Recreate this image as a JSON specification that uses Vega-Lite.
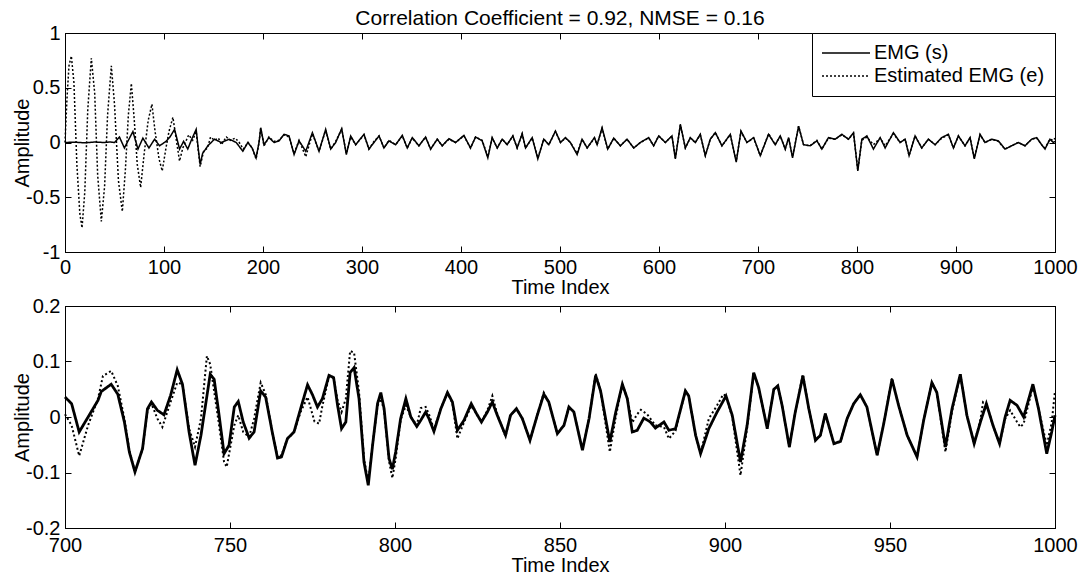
{
"$schema": "https://vega.github.io/schema/vega-lite/v6.json",
"background": "white",
"padding": {"left": 12, "top": 7, "right": 0, "bottom": 0},
"datasets": {
"top": [
{"t":0,"v":0,"k":"s"},{"t":10,"v":0.003,"k":"s"},{"t":20,"v":-0.003,"k":"s"},{"t":30,"v":0.004,"k":"s"},{"t":40,"v":0,"k":"s"},{"t":45,"v":0.005,"k":"s"},{"t":50,"v":0,"k":"s"},{"t":55,"v":0.05,"k":"s"},{"t":60,"v":-0.05,"k":"s"},{"t":64,"v":0.02,"k":"s"},{"t":68.6,"v":0.1,"k":"s"},{"t":73.7,"v":-0.06,"k":"s"},{"t":78.7,"v":0.04,"k":"s"},{"t":84.8,"v":-0.05,"k":"s"},{"t":90.5,"v":0.03,"k":"s"},{"t":95.5,"v":-0.03,"k":"s"},{"t":102,"v":0.01,"k":"s"},{"t":106,"v":0.05,"k":"s"},{"t":110.7,"v":0.12,"k":"s"},{"t":115.7,"v":-0.06,"k":"s"},{"t":119.8,"v":0.01,"k":"s"},{"t":124,"v":-0.06,"k":"s"},{"t":128,"v":0.03,"k":"s"},{"t":132.5,"v":0.12,"k":"s"},{"t":134.5,"v":-0.05,"k":"s"},{"t":136.5,"v":-0.2,"k":"s"},{"t":139,"v":-0.1,"k":"s"},{"t":144.3,"v":-0.03,"k":"s"},{"t":151,"v":0.03,"k":"s"},{"t":157.8,"v":0,"k":"s"},{"t":166,"v":0.03,"k":"s"},{"t":173,"v":0,"k":"s"},{"t":179.6,"v":-0.08,"k":"s"},{"t":184.7,"v":0,"k":"s"},{"t":189,"v":-0.05,"k":"s"},{"t":193,"v":-0.14,"k":"s"},{"t":196,"v":0,"k":"s"},{"t":197.7,"v":0.135,"k":"s"},{"t":201,"v":-0.02,"k":"s"},{"t":206,"v":0.045,"k":"s"},{"t":211.2,"v":0,"k":"s"},{"t":216.2,"v":0.015,"k":"s"},{"t":221.3,"v":0.075,"k":"s"},{"t":226.3,"v":0.06,"k":"s"},{"t":231.4,"v":-0.11,"k":"s"},{"t":236.4,"v":0.015,"k":"s"},{"t":243.2,"v":-0.08,"k":"s"},{"t":249.9,"v":0.09,"k":"s"},{"t":256.6,"v":-0.08,"k":"s"},{"t":263.3,"v":0.12,"k":"s"},{"t":268.4,"v":-0.06,"k":"s"},{"t":273.4,"v":0,"k":"s"},{"t":279.5,"v":0.126,"k":"s"},{"t":284.2,"v":-0.11,"k":"s"},{"t":288.6,"v":0.06,"k":"s"},{"t":293.6,"v":-0.02,"k":"s"},{"t":302,"v":0.075,"k":"s"},{"t":307,"v":-0.06,"k":"s"},{"t":312.1,"v":0,"k":"s"},{"t":317.2,"v":0.06,"k":"s"},{"t":322.2,"v":-0.05,"k":"s"},{"t":327.2,"v":0.015,"k":"s"},{"t":334,"v":-0.02,"k":"s"},{"t":340.7,"v":0.065,"k":"s"},{"t":345.7,"v":-0.05,"k":"s"},{"t":350.8,"v":0.045,"k":"s"},{"t":357.5,"v":-0.03,"k":"s"},{"t":364.2,"v":0.05,"k":"s"},{"t":369.3,"v":-0.06,"k":"s"},{"t":376,"v":0.03,"k":"s"},{"t":381,"v":-0.03,"k":"s"},{"t":387.8,"v":0.035,"k":"s"},{"t":394.5,"v":0,"k":"s"},{"t":402.9,"v":0.065,"k":"s"},{"t":409.6,"v":-0.05,"k":"s"},{"t":414.7,"v":0.05,"k":"s"},{"t":421.4,"v":0.015,"k":"s"},{"t":427.1,"v":-0.14,"k":"s"},{"t":431.5,"v":0.045,"k":"s"},{"t":436.6,"v":-0.05,"k":"s"},{"t":441.6,"v":0.03,"k":"s"},{"t":446.6,"v":-0.02,"k":"s"},{"t":452.4,"v":0.06,"k":"s"},{"t":456.7,"v":-0.05,"k":"s"},{"t":461.8,"v":0.08,"k":"s"},{"t":465.2,"v":-0.05,"k":"s"},{"t":471.9,"v":0.045,"k":"s"},{"t":477.6,"v":-0.15,"k":"s"},{"t":483.6,"v":0.03,"k":"s"},{"t":488.7,"v":-0.02,"k":"s"},{"t":495.4,"v":0.105,"k":"s"},{"t":500.5,"v":0,"k":"s"},{"t":505.5,"v":0.045,"k":"s"},{"t":510.5,"v":0,"k":"s"},{"t":517.3,"v":-0.11,"k":"s"},{"t":522.3,"v":0.03,"k":"s"},{"t":527.4,"v":-0.05,"k":"s"},{"t":534.8,"v":0.045,"k":"s"},{"t":537.5,"v":-0.02,"k":"s"},{"t":542.5,"v":0.135,"k":"s"},{"t":548.2,"v":-0.06,"k":"s"},{"t":554.3,"v":0.04,"k":"s"},{"t":561,"v":-0.03,"k":"s"},{"t":567.7,"v":0.03,"k":"s"},{"t":574.5,"v":-0.05,"k":"s"},{"t":581.2,"v":0,"k":"s"},{"t":589.6,"v":0.045,"k":"s"},{"t":594.6,"v":-0.03,"k":"s"},{"t":599.7,"v":0.06,"k":"s"},{"t":606.4,"v":0,"k":"s"},{"t":613.1,"v":0.06,"k":"s"},{"t":616.5,"v":-0.15,"k":"s"},{"t":621.6,"v":0.165,"k":"s"},{"t":626.6,"v":-0.05,"k":"s"},{"t":631.6,"v":0.045,"k":"s"},{"t":636.7,"v":0,"k":"s"},{"t":641.7,"v":0.075,"k":"s"},{"t":646.8,"v":-0.12,"k":"s"},{"t":651.8,"v":0.03,"k":"s"},{"t":656.9,"v":0.09,"k":"s"},{"t":663.6,"v":-0.03,"k":"s"},{"t":672,"v":0.075,"k":"s"},{"t":678,"v":-0.18,"k":"s"},{"t":682.8,"v":0.105,"k":"s"},{"t":688.8,"v":0,"k":"s"},{"t":695.6,"v":0.045,"k":"s"},{"t":702.3,"v":-0.12,"k":"s"},{"t":710.7,"v":0.075,"k":"s"},{"t":717.4,"v":-0.02,"k":"s"},{"t":722.5,"v":0.06,"k":"s"},{"t":727.5,"v":-0.06,"k":"s"},{"t":730.9,"v":0.045,"k":"s"},{"t":734.9,"v":-0.14,"k":"s"},{"t":741,"v":0.15,"k":"s"},{"t":746,"v":-0.02,"k":"s"},{"t":752.7,"v":-0.03,"k":"s"},{"t":759.5,"v":0.015,"k":"s"},{"t":764.5,"v":-0.06,"k":"s"},{"t":771.2,"v":0.045,"k":"s"},{"t":778,"v":0.03,"k":"s"},{"t":784.7,"v":0.075,"k":"s"},{"t":791.4,"v":0.03,"k":"s"},{"t":796.5,"v":0.09,"k":"s"},{"t":800.8,"v":-0.26,"k":"s"},{"t":804.9,"v":0.03,"k":"s"},{"t":810,"v":0.06,"k":"s"},{"t":816.6,"v":-0.06,"k":"s"},{"t":823.4,"v":0.045,"k":"s"},{"t":828.4,"v":-0.05,"k":"s"},{"t":836.8,"v":0.09,"k":"s"},{"t":843.5,"v":0,"k":"s"},{"t":848.6,"v":0.03,"k":"s"},{"t":852.6,"v":-0.12,"k":"s"},{"t":858.7,"v":0.06,"k":"s"},{"t":865.4,"v":-0.05,"k":"s"},{"t":872.1,"v":0.03,"k":"s"},{"t":878.9,"v":-0.02,"k":"s"},{"t":885.6,"v":0.045,"k":"s"},{"t":892.3,"v":0.075,"k":"s"},{"t":897.4,"v":-0.05,"k":"s"},{"t":902.4,"v":0.06,"k":"s"},{"t":909.1,"v":-0.03,"k":"s"},{"t":914.2,"v":0.045,"k":"s"},{"t":918.5,"v":-0.15,"k":"s"},{"t":924.3,"v":0.075,"k":"s"},{"t":929.3,"v":0,"k":"s"},{"t":936,"v":0.03,"k":"s"},{"t":942.8,"v":0.015,"k":"s"},{"t":949.5,"v":-0.06,"k":"s"},{"t":956.2,"v":-0.03,"k":"s"},{"t":962.9,"v":0,"k":"s"},{"t":969.7,"v":-0.03,"k":"s"},{"t":976.4,"v":0.03,"k":"s"},{"t":981.5,"v":0.045,"k":"s"},{"t":986.5,"v":-0.02,"k":"s"},{"t":989.9,"v":-0.06,"k":"s"},{"t":994.9,"v":0.03,"k":"s"},{"t":998.3,"v":0,"k":"s"},{"t":1000,"v":0.01,"k":"s"},
{"t":0,"v":0,"k":"e"},{"t":2,"v":0.4,"k":"e"},{"t":4,"v":0.7,"k":"e"},{"t":6.4,"v":0.79,"k":"e"},{"t":9,"v":0.55,"k":"e"},{"t":12,"v":-0.2,"k":"e"},{"t":15,"v":-0.65,"k":"e"},{"t":17.2,"v":-0.78,"k":"e"},{"t":20,"v":-0.45,"k":"e"},{"t":23,"v":0.3,"k":"e"},{"t":26.6,"v":0.77,"k":"e"},{"t":30,"v":0.45,"k":"e"},{"t":33,"v":-0.3,"k":"e"},{"t":36.7,"v":-0.72,"k":"e"},{"t":40,"v":-0.4,"k":"e"},{"t":43,"v":0.25,"k":"e"},{"t":46.8,"v":0.7,"k":"e"},{"t":50,"v":0.35,"k":"e"},{"t":54,"v":-0.35,"k":"e"},{"t":57.9,"v":-0.63,"k":"e"},{"t":61,"v":-0.25,"k":"e"},{"t":64,"v":0.25,"k":"e"},{"t":67,"v":0.54,"k":"e"},{"t":70,"v":0.2,"k":"e"},{"t":73,"v":-0.2,"k":"e"},{"t":76.4,"v":-0.41,"k":"e"},{"t":80,"v":-0.1,"k":"e"},{"t":84,"v":0.2,"k":"e"},{"t":87.8,"v":0.35,"k":"e"},{"t":91,"v":0.1,"k":"e"},{"t":95,"v":-0.15,"k":"e"},{"t":98.2,"v":-0.26,"k":"e"},{"t":102,"v":-0.05,"k":"e"},{"t":105,"v":0.1,"k":"e"},{"t":109,"v":0.23,"k":"e"},{"t":112,"v":0.05,"k":"e"},{"t":115.7,"v":-0.17,"k":"e"},{"t":119,"v":-0.05,"k":"e"},{"t":125,"v":0.07,"k":"e"},{"t":129,"v":0.02,"k":"e"},{"t":132.5,"v":0.1,"k":"e"},{"t":136.5,"v":-0.22,"k":"e"},{"t":140,"v":-0.08,"k":"e"},{"t":144,"v":-0.05,"k":"e"},{"t":147,"v":0.05,"k":"e"},{"t":151,"v":0.02,"k":"e"},{"t":155,"v":0.04,"k":"e"},{"t":158,"v":-0.02,"k":"e"},{"t":163,"v":0.05,"k":"e"},{"t":167,"v":0.02,"k":"e"},{"t":172,"v":0.04,"k":"e"},{"t":176,"v":0,"k":"e"},{"t":180,"v":-0.06,"k":"e"},{"t":185,"v":0,"k":"e"},{"t":189,"v":-0.05,"k":"e"},{"t":193,"v":-0.15,"k":"e"},{"t":196,"v":0,"k":"e"},{"t":197.7,"v":0.13,"k":"e"},{"t":201,"v":-0.03,"k":"e"},{"t":206,"v":0.05,"k":"e"},{"t":211.2,"v":0.01,"k":"e"},{"t":216.2,"v":0.02,"k":"e"},{"t":221.3,"v":0.07,"k":"e"},{"t":226.3,"v":0.05,"k":"e"},{"t":231.4,"v":-0.1,"k":"e"},{"t":236.4,"v":0.02,"k":"e"},{"t":243.2,"v":-0.13,"k":"e"},{"t":249.9,"v":0.08,"k":"e"},{"t":256.6,"v":-0.08,"k":"e"},{"t":263.3,"v":0.11,"k":"e"},{"t":268.4,"v":-0.06,"k":"e"},{"t":273.4,"v":0.01,"k":"e"},{"t":279.5,"v":0.12,"k":"e"},{"t":284.2,"v":-0.1,"k":"e"},{"t":288.6,"v":0.05,"k":"e"},{"t":293.6,"v":-0.02,"k":"e"},{"t":302,"v":0.07,"k":"e"},{"t":307,"v":-0.06,"k":"e"},{"t":312.1,"v":0.01,"k":"e"},{"t":317.2,"v":0.06,"k":"e"},{"t":322.2,"v":-0.05,"k":"e"},{"t":327.2,"v":0.02,"k":"e"},{"t":334,"v":-0.02,"k":"e"},{"t":340.7,"v":0.06,"k":"e"},{"t":345.7,"v":-0.05,"k":"e"},{"t":350.8,"v":0.04,"k":"e"},{"t":357.5,"v":-0.03,"k":"e"},{"t":364.2,"v":0.05,"k":"e"},{"t":369.3,"v":-0.06,"k":"e"},{"t":376,"v":0.03,"k":"e"},{"t":381,"v":-0.03,"k":"e"},{"t":387.8,"v":0.03,"k":"e"},{"t":394.5,"v":0,"k":"e"},{"t":402.9,"v":0.06,"k":"e"},{"t":409.6,"v":-0.05,"k":"e"},{"t":414.7,"v":0.05,"k":"e"},{"t":421.4,"v":0.02,"k":"e"},{"t":427.1,"v":-0.13,"k":"e"},{"t":431.5,"v":0.04,"k":"e"},{"t":436.6,"v":-0.05,"k":"e"},{"t":441.6,"v":0.03,"k":"e"},{"t":446.6,"v":-0.02,"k":"e"},{"t":452.4,"v":0.06,"k":"e"},{"t":456.7,"v":-0.05,"k":"e"},{"t":461.8,"v":0.08,"k":"e"},{"t":465.2,"v":-0.05,"k":"e"},{"t":471.9,"v":0.04,"k":"e"},{"t":477.6,"v":-0.14,"k":"e"},{"t":483.6,"v":0.03,"k":"e"},{"t":488.7,"v":-0.02,"k":"e"},{"t":495.4,"v":0.1,"k":"e"},{"t":500.5,"v":0,"k":"e"},{"t":505.5,"v":0.04,"k":"e"},{"t":510.5,"v":0,"k":"e"},{"t":517.3,"v":-0.1,"k":"e"},{"t":522.3,"v":0.03,"k":"e"},{"t":527.4,"v":-0.05,"k":"e"},{"t":534.8,"v":0.04,"k":"e"},{"t":537.5,"v":-0.02,"k":"e"},{"t":542.5,"v":0.13,"k":"e"},{"t":548.2,"v":-0.06,"k":"e"},{"t":554.3,"v":0.04,"k":"e"},{"t":561,"v":-0.03,"k":"e"},{"t":567.7,"v":0.03,"k":"e"},{"t":574.5,"v":-0.05,"k":"e"},{"t":581.2,"v":0,"k":"e"},{"t":589.6,"v":0.04,"k":"e"},{"t":594.6,"v":-0.03,"k":"e"},{"t":599.7,"v":0.06,"k":"e"},{"t":606.4,"v":0,"k":"e"},{"t":613.1,"v":0.06,"k":"e"},{"t":616.5,"v":-0.14,"k":"e"},{"t":621.6,"v":0.16,"k":"e"},{"t":626.6,"v":-0.05,"k":"e"},{"t":631.6,"v":0.04,"k":"e"},{"t":636.7,"v":0,"k":"e"},{"t":641.7,"v":0.07,"k":"e"},{"t":646.8,"v":-0.12,"k":"e"},{"t":651.8,"v":0.03,"k":"e"},{"t":656.9,"v":0.09,"k":"e"},{"t":663.6,"v":-0.03,"k":"e"},{"t":672,"v":0.07,"k":"e"},{"t":678,"v":-0.17,"k":"e"},{"t":682.8,"v":0.1,"k":"e"},{"t":688.8,"v":0,"k":"e"},{"t":695.6,"v":0.04,"k":"e"},{"t":702.3,"v":-0.12,"k":"e"},{"t":710.7,"v":0.08,"k":"e"},{"t":717.4,"v":-0.02,"k":"e"},{"t":722.5,"v":0.06,"k":"e"},{"t":727.5,"v":-0.06,"k":"e"},{"t":730.9,"v":0.04,"k":"e"},{"t":734.9,"v":-0.13,"k":"e"},{"t":741,"v":0.15,"k":"e"},{"t":746,"v":-0.02,"k":"e"},{"t":752.7,"v":-0.03,"k":"e"},{"t":759.5,"v":0.02,"k":"e"},{"t":764.5,"v":-0.06,"k":"e"},{"t":771.2,"v":0.04,"k":"e"},{"t":778,"v":0.03,"k":"e"},{"t":784.7,"v":0.07,"k":"e"},{"t":791.4,"v":0.03,"k":"e"},{"t":796.5,"v":0.08,"k":"e"},{"t":800.8,"v":-0.25,"k":"e"},{"t":804.9,"v":0.02,"k":"e"},{"t":810,"v":0.05,"k":"e"},{"t":816.6,"v":-0.02,"k":"e"},{"t":823.4,"v":0.04,"k":"e"},{"t":828.4,"v":-0.03,"k":"e"},{"t":836.8,"v":0.08,"k":"e"},{"t":843.5,"v":0,"k":"e"},{"t":848.6,"v":0.03,"k":"e"},{"t":852.6,"v":-0.12,"k":"e"},{"t":858.7,"v":0.06,"k":"e"},{"t":865.4,"v":-0.05,"k":"e"},{"t":872.1,"v":0.03,"k":"e"},{"t":878.9,"v":-0.02,"k":"e"},{"t":885.6,"v":0.04,"k":"e"},{"t":892.3,"v":0.07,"k":"e"},{"t":897.4,"v":-0.05,"k":"e"},{"t":902.4,"v":0.06,"k":"e"},{"t":909.1,"v":-0.03,"k":"e"},{"t":914.2,"v":0.04,"k":"e"},{"t":918.5,"v":-0.14,"k":"e"},{"t":924.3,"v":0.07,"k":"e"},{"t":929.3,"v":0,"k":"e"},{"t":936,"v":0.03,"k":"e"},{"t":942.8,"v":0.01,"k":"e"},{"t":949.5,"v":-0.06,"k":"e"},{"t":956.2,"v":-0.03,"k":"e"},{"t":962.9,"v":0,"k":"e"},{"t":969.7,"v":-0.03,"k":"e"},{"t":976.4,"v":0.03,"k":"e"},{"t":981.5,"v":0.04,"k":"e"},{"t":986.5,"v":-0.02,"k":"e"},{"t":989.9,"v":-0.05,"k":"e"},{"t":994.9,"v":0.03,"k":"e"},{"t":998.3,"v":0.02,"k":"e"},{"t":1000,"v":0.04,"k":"e"}
],
"bottom": [
{"t":700,"v":0.036,"k":"s"},{"t":702,"v":0.024,"k":"s"},{"t":704.3,"v":-0.027,"k":"s"},{"t":707,"v":0,"k":"s"},{"t":710,"v":0.03,"k":"s"},{"t":711,"v":0.046,"k":"s"},{"t":714,"v":0.059,"k":"s"},{"t":716,"v":0.041,"k":"s"},{"t":718,"v":-0.009,"k":"s"},{"t":719.5,"v":-0.063,"k":"s"},{"t":721.2,"v":-0.099,"k":"s"},{"t":723.5,"v":-0.057,"k":"s"},{"t":725,"v":0.015,"k":"s"},{"t":726.2,"v":0.027,"k":"s"},{"t":728,"v":0.012,"k":"s"},{"t":730,"v":0.004,"k":"s"},{"t":732,"v":0.039,"k":"s"},{"t":734,"v":0.085,"k":"s"},{"t":735.6,"v":0.059,"k":"s"},{"t":737.6,"v":-0.027,"k":"s"},{"t":739.4,"v":-0.087,"k":"s"},{"t":741.2,"v":-0.033,"k":"s"},{"t":744,"v":0.077,"k":"s"},{"t":745.2,"v":0.068,"k":"s"},{"t":746.7,"v":0.003,"k":"s"},{"t":748.2,"v":-0.066,"k":"s"},{"t":749.7,"v":-0.051,"k":"s"},{"t":751.3,"v":0.018,"k":"s"},{"t":752.5,"v":0.028,"k":"s"},{"t":754,"v":-0.009,"k":"s"},{"t":755.8,"v":-0.038,"k":"s"},{"t":757.3,"v":-0.027,"k":"s"},{"t":759.3,"v":0.047,"k":"s"},{"t":760.8,"v":0.036,"k":"s"},{"t":762.8,"v":-0.027,"k":"s"},{"t":764.4,"v":-0.074,"k":"s"},{"t":765.6,"v":-0.072,"k":"s"},{"t":767.4,"v":-0.039,"k":"s"},{"t":769.4,"v":-0.027,"k":"s"},{"t":771.4,"v":0.015,"k":"s"},{"t":773.5,"v":0.058,"k":"s"},{"t":775,"v":0.04,"k":"s"},{"t":776.5,"v":0.018,"k":"s"},{"t":778,"v":0.033,"k":"s"},{"t":780,"v":0.075,"k":"s"},{"t":781.4,"v":0.071,"k":"s"},{"t":782.6,"v":0.021,"k":"s"},{"t":783.8,"v":-0.021,"k":"s"},{"t":785.1,"v":-0.009,"k":"s"},{"t":786.4,"v":0.08,"k":"s"},{"t":787.6,"v":0.089,"k":"s"},{"t":789.1,"v":0.033,"k":"s"},{"t":790.6,"v":-0.081,"k":"s"},{"t":791.9,"v":-0.123,"k":"s"},{"t":793.2,"v":-0.051,"k":"s"},{"t":794.7,"v":0.024,"k":"s"},{"t":795.7,"v":0.044,"k":"s"},{"t":796.7,"v":0.015,"k":"s"},{"t":798.2,"v":-0.075,"k":"s"},{"t":799.2,"v":-0.094,"k":"s"},{"t":800.2,"v":-0.063,"k":"s"},{"t":801.7,"v":-0.003,"k":"s"},{"t":803.3,"v":0.033,"k":"s"},{"t":804.8,"v":0,"k":"s"},{"t":806.6,"v":-0.017,"k":"s"},{"t":807.8,"v":-0.006,"k":"s"},{"t":809.3,"v":0.009,"k":"s"},{"t":810.3,"v":-0.003,"k":"s"},{"t":811.8,"v":-0.026,"k":"s"},{"t":813.9,"v":0.015,"k":"s"},{"t":815.9,"v":0.044,"k":"s"},{"t":817.4,"v":0.027,"k":"s"},{"t":818.9,"v":-0.024,"k":"s"},{"t":820.9,"v":-0.006,"k":"s"},{"t":823.1,"v":0.024,"k":"s"},{"t":824.7,"v":0.006,"k":"s"},{"t":826.2,"v":-0.009,"k":"s"},{"t":828,"v":0.009,"k":"s"},{"t":829.5,"v":0.027,"k":"s"},{"t":831,"v":0.003,"k":"s"},{"t":833.5,"v":-0.033,"k":"s"},{"t":835,"v":0.003,"k":"s"},{"t":836.8,"v":0.015,"k":"s"},{"t":838.6,"v":-0.003,"k":"s"},{"t":840.9,"v":-0.042,"k":"s"},{"t":843.1,"v":0.003,"k":"s"},{"t":845.1,"v":0.041,"k":"s"},{"t":846.6,"v":0.027,"k":"s"},{"t":849.2,"v":-0.03,"k":"s"},{"t":851.2,"v":-0.015,"k":"s"},{"t":852.7,"v":0.018,"k":"s"},{"t":854.2,"v":0.009,"k":"s"},{"t":856.8,"v":-0.06,"k":"s"},{"t":858.8,"v":-0.003,"k":"s"},{"t":860.8,"v":0.075,"k":"s"},{"t":862.3,"v":0.047,"k":"s"},{"t":865.1,"v":-0.045,"k":"s"},{"t":866.9,"v":0.009,"k":"s"},{"t":868.9,"v":0.059,"k":"s"},{"t":870.4,"v":0.033,"k":"s"},{"t":871.9,"v":-0.027,"k":"s"},{"t":873.4,"v":-0.024,"k":"s"},{"t":875.4,"v":-0.002,"k":"s"},{"t":877.4,"v":-0.009,"k":"s"},{"t":878.9,"v":-0.02,"k":"s"},{"t":881.5,"v":-0.009,"k":"s"},{"t":883,"v":-0.024,"k":"s"},{"t":885,"v":-0.021,"k":"s"},{"t":888,"v":0.047,"k":"s"},{"t":889,"v":0.038,"k":"s"},{"t":891.1,"v":-0.033,"k":"s"},{"t":892.6,"v":-0.066,"k":"s"},{"t":895.1,"v":-0.021,"k":"s"},{"t":897.6,"v":0.009,"k":"s"},{"t":900.3,"v":0.038,"k":"s"},{"t":902.2,"v":0.003,"k":"s"},{"t":904.7,"v":-0.081,"k":"s"},{"t":906.7,"v":-0.015,"k":"s"},{"t":908.7,"v":0.08,"k":"s"},{"t":910.2,"v":0.053,"k":"s"},{"t":912.8,"v":-0.021,"k":"s"},{"t":914.8,"v":0.05,"k":"s"},{"t":916,"v":0.056,"k":"s"},{"t":917.3,"v":0.021,"k":"s"},{"t":919.5,"v":-0.054,"k":"s"},{"t":921.3,"v":0.009,"k":"s"},{"t":923.6,"v":0.074,"k":"s"},{"t":925.4,"v":0.015,"k":"s"},{"t":927.4,"v":-0.042,"k":"s"},{"t":928.9,"v":-0.033,"k":"s"},{"t":930.4,"v":0.006,"k":"s"},{"t":933,"v":-0.048,"k":"s"},{"t":935,"v":-0.044,"k":"s"},{"t":937,"v":-0.003,"k":"s"},{"t":939,"v":0.024,"k":"s"},{"t":941,"v":0.04,"k":"s"},{"t":943,"v":0.018,"k":"s"},{"t":944.6,"v":-0.027,"k":"s"},{"t":946.1,"v":-0.069,"k":"s"},{"t":948.1,"v":-0.012,"k":"s"},{"t":950.6,"v":0.068,"k":"s"},{"t":952.6,"v":0.021,"k":"s"},{"t":955.2,"v":-0.033,"k":"s"},{"t":958.2,"v":-0.072,"k":"s"},{"t":960.2,"v":-0.006,"k":"s"},{"t":962.7,"v":0.062,"k":"s"},{"t":964.2,"v":0.044,"k":"s"},{"t":966.8,"v":-0.054,"k":"s"},{"t":968.8,"v":0.015,"k":"s"},{"t":971.3,"v":0.077,"k":"s"},{"t":973.3,"v":0.003,"k":"s"},{"t":975.5,"v":-0.048,"k":"s"},{"t":977.4,"v":-0.009,"k":"s"},{"t":979.2,"v":0.024,"k":"s"},{"t":981.2,"v":-0.015,"k":"s"},{"t":983.2,"v":-0.048,"k":"s"},{"t":984.9,"v":0,"k":"s"},{"t":986.4,"v":0.03,"k":"s"},{"t":988.5,"v":0.021,"k":"s"},{"t":990.5,"v":0,"k":"s"},{"t":993.3,"v":0.059,"k":"s"},{"t":995,"v":0.015,"k":"s"},{"t":997.5,"v":-0.066,"k":"s"},{"t":999,"v":-0.027,"k":"s"},{"t":1000,"v":0.003,"k":"s"},
{"t":700,"v":0.005,"k":"e"},{"t":702,"v":-0.015,"k":"e"},{"t":704.3,"v":-0.07,"k":"e"},{"t":707,"v":-0.015,"k":"e"},{"t":710,"v":0.033,"k":"e"},{"t":711.5,"v":0.074,"k":"e"},{"t":714,"v":0.083,"k":"e"},{"t":716,"v":0.056,"k":"e"},{"t":718,"v":-0.003,"k":"e"},{"t":719.5,"v":-0.06,"k":"e"},{"t":721.2,"v":-0.099,"k":"e"},{"t":723.5,"v":-0.057,"k":"e"},{"t":725,"v":0.012,"k":"e"},{"t":726.2,"v":0.024,"k":"e"},{"t":728,"v":-0.003,"k":"e"},{"t":729.5,"v":-0.018,"k":"e"},{"t":732,"v":0.027,"k":"e"},{"t":734,"v":0.062,"k":"e"},{"t":735.6,"v":0.059,"k":"e"},{"t":737.6,"v":-0.021,"k":"e"},{"t":739.4,"v":-0.054,"k":"e"},{"t":741.2,"v":-0.003,"k":"e"},{"t":743,"v":0.11,"k":"e"},{"t":744,"v":0.095,"k":"e"},{"t":746.7,"v":-0.015,"k":"e"},{"t":748.2,"v":-0.081,"k":"e"},{"t":749,"v":-0.09,"k":"e"},{"t":751.3,"v":-0.015,"k":"e"},{"t":752.5,"v":0.003,"k":"e"},{"t":754,"v":-0.027,"k":"e"},{"t":755.8,"v":-0.036,"k":"e"},{"t":757.3,"v":-0.003,"k":"e"},{"t":759.3,"v":0.062,"k":"e"},{"t":760.8,"v":0.041,"k":"e"},{"t":762.8,"v":-0.027,"k":"e"},{"t":764.4,"v":-0.072,"k":"e"},{"t":765.6,"v":-0.069,"k":"e"},{"t":767.4,"v":-0.039,"k":"e"},{"t":769.4,"v":-0.027,"k":"e"},{"t":771.4,"v":0.009,"k":"e"},{"t":773.5,"v":0.036,"k":"e"},{"t":775.6,"v":-0.008,"k":"e"},{"t":777,"v":-0.012,"k":"e"},{"t":778,"v":0.02,"k":"e"},{"t":780,"v":0.073,"k":"e"},{"t":781.4,"v":0.07,"k":"e"},{"t":782.6,"v":0.03,"k":"e"},{"t":783.8,"v":0.009,"k":"e"},{"t":785.1,"v":0.033,"k":"e"},{"t":786.4,"v":0.119,"k":"e"},{"t":787.6,"v":0.116,"k":"e"},{"t":789.1,"v":0.045,"k":"e"},{"t":790.6,"v":-0.075,"k":"e"},{"t":791.9,"v":-0.118,"k":"e"},{"t":793.2,"v":-0.05,"k":"e"},{"t":794.7,"v":0.02,"k":"e"},{"t":795.7,"v":0.033,"k":"e"},{"t":796.7,"v":0.012,"k":"e"},{"t":798.2,"v":-0.08,"k":"e"},{"t":799.2,"v":-0.11,"k":"e"},{"t":800.2,"v":-0.075,"k":"e"},{"t":801.7,"v":-0.005,"k":"e"},{"t":803.3,"v":0.021,"k":"e"},{"t":804.8,"v":0,"k":"e"},{"t":806.6,"v":-0.015,"k":"e"},{"t":807.8,"v":0.016,"k":"e"},{"t":809.3,"v":0.018,"k":"e"},{"t":810.3,"v":0.005,"k":"e"},{"t":811.8,"v":-0.022,"k":"e"},{"t":813.9,"v":0.015,"k":"e"},{"t":815.9,"v":0.044,"k":"e"},{"t":817.4,"v":0.025,"k":"e"},{"t":818.9,"v":-0.039,"k":"e"},{"t":820.9,"v":-0.01,"k":"e"},{"t":823.1,"v":0.02,"k":"e"},{"t":824.7,"v":0.006,"k":"e"},{"t":826.2,"v":-0.009,"k":"e"},{"t":828,"v":0.012,"k":"e"},{"t":829.5,"v":0.038,"k":"e"},{"t":831,"v":0.005,"k":"e"},{"t":833.5,"v":-0.035,"k":"e"},{"t":835,"v":0.003,"k":"e"},{"t":836.8,"v":0.015,"k":"e"},{"t":838.6,"v":-0.003,"k":"e"},{"t":840.9,"v":-0.042,"k":"e"},{"t":843.1,"v":0.003,"k":"e"},{"t":845.1,"v":0.044,"k":"e"},{"t":846.6,"v":0.027,"k":"e"},{"t":849.2,"v":-0.03,"k":"e"},{"t":851.2,"v":-0.015,"k":"e"},{"t":852.7,"v":0.018,"k":"e"},{"t":854.2,"v":0.009,"k":"e"},{"t":856.8,"v":-0.06,"k":"e"},{"t":858.8,"v":-0.003,"k":"e"},{"t":860.8,"v":0.078,"k":"e"},{"t":862.3,"v":0.047,"k":"e"},{"t":865.1,"v":-0.063,"k":"e"},{"t":866.9,"v":0,"k":"e"},{"t":868.9,"v":0.059,"k":"e"},{"t":870.4,"v":0.033,"k":"e"},{"t":871.9,"v":-0.01,"k":"e"},{"t":873.4,"v":0.005,"k":"e"},{"t":874.5,"v":0.013,"k":"e"},{"t":876.4,"v":0.005,"k":"e"},{"t":878.9,"v":-0.015,"k":"e"},{"t":881.5,"v":-0.018,"k":"e"},{"t":883,"v":-0.039,"k":"e"},{"t":885,"v":-0.025,"k":"e"},{"t":888,"v":0.047,"k":"e"},{"t":889,"v":0.038,"k":"e"},{"t":891.1,"v":-0.033,"k":"e"},{"t":892.6,"v":-0.066,"k":"e"},{"t":895.1,"v":-0.003,"k":"e"},{"t":897.6,"v":0.021,"k":"e"},{"t":899.5,"v":0.041,"k":"e"},{"t":900.3,"v":0.038,"k":"e"},{"t":902.2,"v":0,"k":"e"},{"t":904.7,"v":-0.105,"k":"e"},{"t":906.7,"v":-0.02,"k":"e"},{"t":908.7,"v":0.08,"k":"e"},{"t":910.2,"v":0.053,"k":"e"},{"t":912.8,"v":-0.021,"k":"e"},{"t":914.8,"v":0.05,"k":"e"},{"t":916,"v":0.056,"k":"e"},{"t":917.3,"v":0.021,"k":"e"},{"t":919.5,"v":-0.054,"k":"e"},{"t":921.3,"v":0.009,"k":"e"},{"t":923.6,"v":0.077,"k":"e"},{"t":925.4,"v":0.015,"k":"e"},{"t":927.4,"v":-0.042,"k":"e"},{"t":928.9,"v":-0.033,"k":"e"},{"t":930.4,"v":0.006,"k":"e"},{"t":933,"v":-0.048,"k":"e"},{"t":935,"v":-0.044,"k":"e"},{"t":937,"v":-0.003,"k":"e"},{"t":939,"v":0.024,"k":"e"},{"t":941,"v":0.04,"k":"e"},{"t":943,"v":0.018,"k":"e"},{"t":944.6,"v":-0.027,"k":"e"},{"t":946.1,"v":-0.069,"k":"e"},{"t":948.1,"v":-0.012,"k":"e"},{"t":950.6,"v":0.07,"k":"e"},{"t":952.6,"v":0.021,"k":"e"},{"t":955.2,"v":-0.033,"k":"e"},{"t":958.2,"v":-0.072,"k":"e"},{"t":960.2,"v":-0.006,"k":"e"},{"t":962.7,"v":0.062,"k":"e"},{"t":964.2,"v":0.044,"k":"e"},{"t":966.8,"v":-0.063,"k":"e"},{"t":968.8,"v":0.01,"k":"e"},{"t":971.3,"v":0.077,"k":"e"},{"t":973.3,"v":0.003,"k":"e"},{"t":975.5,"v":-0.048,"k":"e"},{"t":977.4,"v":-0.005,"k":"e"},{"t":978.2,"v":0.027,"k":"e"},{"t":979.2,"v":0.024,"k":"e"},{"t":981.2,"v":-0.015,"k":"e"},{"t":983.2,"v":-0.048,"k":"e"},{"t":984.9,"v":-0.003,"k":"e"},{"t":986.4,"v":0.012,"k":"e"},{"t":988.5,"v":-0.009,"k":"e"},{"t":989.5,"v":-0.018,"k":"e"},{"t":990.5,"v":-0.012,"k":"e"},{"t":993.3,"v":0.055,"k":"e"},{"t":995,"v":0.015,"k":"e"},{"t":997.5,"v":-0.051,"k":"e"},{"t":999,"v":-0.01,"k":"e"},{"t":1000,"v":0.047,"k":"e"}
]
},
"vconcat": [
{
"width": 990, "height": 219,
"data": {"name": "top"},
"title": {"text": "Correlation Coefficient = 0.92, NMSE = 0.16", "fontSize": 21, "fontWeight": "normal", "font": "Liberation Sans", "color": "black", "offset": -23, "baseline": "alphabetic", "anchor": "middle"},
"layer": [
{
"mark": {"type": "line", "color": "black", "strokeWidth": 1.5},
"encoding": {
"x": {"field": "t", "type": "quantitative", "scale": {"domain": [0, 1000], "nice": false, "zero": false}, "axis": {"values": [0,100,200,300,400,500,600,700,800,900,1000], "title": "Time Index", "labelExpr": "'' + datum.value", "titlePadding": 0}},
"y": {"field": "v", "type": "quantitative", "scale": {"domain": [-1, 1], "nice": false}, "axis": {"values": [-1,-0.5,0,0.5,1], "title": "Amplitude", "labelExpr": "'' + datum.value"}},
"strokeDash": {"field": "k", "type": "nominal", "scale": {"domain": ["s", "e"], "range": [[1, 0], [2, 2]]},
"legend": {"orient": "top-right", "offset": 0, "title": null, "labelFont": "Liberation Sans", "labelFontSize": 20, "labelColor": "black", "labelLimit": 400, "symbolType": "M-6,0H6", "symbolSize": 64, "symbolStrokeWidth": 1.4, "symbolStrokeColor": "black", "symbolFillColor": "transparent", "symbolOffset": 14, "labelOffset": 18, "padding": 10, "rowPadding": 3, "strokeColor": "black", "fillColor": "white", "cornerRadius": 0, "labelExpr": "datum.label == 's' ? 'EMG (s)' : 'Estimated EMG (e)'"}}
}
},
{
"mark": {"type": "line", "opacity": 0},
"encoding": {
"x": {"field": "t", "type": "quantitative", "scale": {"domain": [0, 1000], "nice": false, "zero": false}, "axis": {"orient": "top", "values": [0,100,200,300,400,500,600,700,800,900,1000], "labels": false, "title": null}},
"y": {"field": "v", "type": "quantitative", "scale": {"domain": [-1, 1], "nice": false}, "axis": {"orient": "right", "values": [-1,-0.5,0,0.5,1], "labels": false, "title": null}},
"detail": {"field": "k", "type": "nominal"}
}
}
],
"resolve": {"scale": {"x": "independent", "y": "independent"}}
},
{
"width": 990, "height": 222,
"data": {"name": "bottom"},
"layer": [
{
"mark": {"type": "line", "color": "black"},
"encoding": {
"x": {"field": "t", "type": "quantitative", "scale": {"domain": [700, 1000], "nice": false, "zero": false}, "axis": {"values": [700,750,800,850,900,950,1000], "title": "Time Index", "labelExpr": "'' + datum.value", "labelPadding": 13, "titlePadding": 0}},
"y": {"field": "v", "type": "quantitative", "scale": {"domain": [-0.2, 0.2], "nice": false}, "axis": {"values": [-0.2,-0.1,0,0.1,0.2], "title": "Amplitude", "labelExpr": "'' + datum.value"}},
"strokeDash": {"field": "k", "type": "nominal", "scale": {"domain": ["s", "e"], "range": [[1, 0], [2, 2.5]]}, "legend": null},
"strokeWidth": {"field": "k", "type": "nominal", "scale": {"domain": ["s", "e"], "range": [2.8, 2]}, "legend": null}
}
},
{
"mark": {"type": "line", "opacity": 0},
"encoding": {
"x": {"field": "t", "type": "quantitative", "scale": {"domain": [700, 1000], "nice": false, "zero": false}, "axis": {"orient": "top", "values": [700,750,800,850,900,950,1000], "labels": false, "title": null}},
"y": {"field": "v", "type": "quantitative", "scale": {"domain": [-0.2, 0.2], "nice": false}, "axis": {"orient": "right", "values": [-0.2,-0.1,0,0.1,0.2], "labels": false, "title": null}},
"detail": {"field": "k", "type": "nominal"}
}
}
],
"resolve": {"scale": {"x": "independent", "y": "independent"}}
}
],
"spacing": 54,
"bounds": "flush",
"resolve": {"scale": {"strokeDash": "independent", "strokeWidth": "independent"}, "legend": {"strokeDash": "independent"}},
"config": {
"font": "Liberation Sans",
"view": {"stroke": "black", "strokeWidth": 1},
"axis": {"labelFont": "Liberation Sans", "labelFontSize": 20, "labelColor": "black", "titleFont": "Liberation Sans", "titleFontSize": 20, "titleFontWeight": "normal", "titleColor": "black", "domainColor": "black", "domainWidth": 1, "tickColor": "black", "tickWidth": 1, "tickSize": -6, "labelPadding": 11, "labelFlush": false, "labelOverlap": false, "labelBound": false, "grid": false, "minExtent": 0},
"axisY": {"titlePadding": -7}
}
}
